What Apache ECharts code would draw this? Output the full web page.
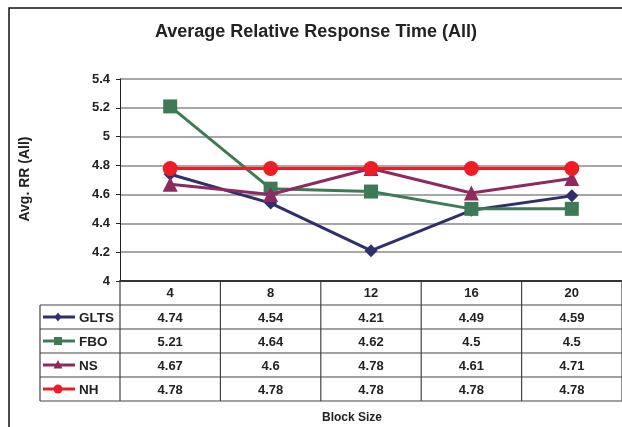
<!DOCTYPE html>
<html>
<head>
<meta charset="utf-8">
<script src="https://cdn.jsdelivr.net/npm/echarts@6/dist/echarts.min.js"></script>
<style>
  html, body { margin: 0; padding: 0; background: #fff; }
  #chart { width: 622px; height: 427px; }
</style>
</head>
<body>
<div id="chart"></div>
<script>
// Block sizes along the x axis
const categories = ['4', '8', '12', '16', '20'];
// Average relative response time per method
const gltsValues = [4.74, 4.54, 4.21, 4.49, 4.59];
const fboValues  = [5.21, 4.64, 4.62, 4.5, 4.5];
const nsValues   = [4.67, 4.6, 4.78, 4.61, 4.71];
const nhValues   = [4.78, 4.78, 4.78, 4.78, 4.78];
const seriesNames = ['GLTS', 'FBO', 'NS', 'NH'];

const FONT = "'Liberation Sans', Arial, sans-serif";
const TEXT = '#222';
const styles = [
  { color: '#2F2F6E', symbol: 'diamond',  size: 13, data: gltsValues },
  { color: '#3F7A57', symbol: 'rect',     size: 14, data: fboValues },
  { color: '#8E2A60', symbol: 'triangle', size: 15, data: nsValues },
  { color: '#EE1C25', symbol: 'circle',   size: 15, data: nhValues }
];

const chart = echarts.init(document.getElementById('chart'), null, { renderer: 'canvas' });

const option = {
  animation: false,
  backgroundColor: '#fff',
  grid: { left: 120, top: 79, width: 505, height: 202, containLabel: false },
  xAxis: {
    type: 'category',
    data: categories,
    boundaryGap: true,
    axisLine: { lineStyle: { color: '#333', width: 2 } },
    axisTick: { show: false },
    axisLabel: { color: TEXT, fontFamily: FONT, fontWeight: 'bold', fontSize: 13, margin: 6 }
  },
  yAxis: {
    type: 'value',
    min: 4, max: 5.4, interval: 0.2,
    axisLine: { show: true, lineStyle: { color: '#222', width: 1 } },
    axisTick: { show: true, length: 4, lineStyle: { color: '#222' } },
    axisLabel: { color: TEXT, fontFamily: FONT, fontWeight: 'bold', fontSize: 13, margin: 10 },
    splitLine: { lineStyle: { color: '#8a8a8a', width: 1.5 } }
  },
  series: styles.map((s, i) => ({
    name: seriesNames[i],
    type: 'line',
    data: s.data,
    symbol: s.symbol,
    symbolSize: s.size,
    showSymbol: true,
    lineStyle: { color: s.color, width: 3 },
    itemStyle: { color: s.color },
    z: 2 + i
  }))
};
chart.setOption(option);

// Data table under the plot, laid out from the category axis positions
const c0 = chart.convertToPixel({ xAxisIndex: 0 }, 0);
const c1 = chart.convertToPixel({ xAxisIndex: 0 }, 1);
const band = c1 - c0;
const yBase = chart.convertToPixel({ yAxisIndex: 0 }, 4);
const headerH = 24;
const rowH = 24;
const legendLeft = 40;
const firstEdge = c0 - band / 2;
const lastEdge = firstEdge + band * categories.length;
const tableTop = yBase + headerH;
const tableBottom = tableTop + rowH * seriesNames.length;
const lineStyle = { stroke: '#444', lineWidth: 1.2 };

const graphics = [];
// outer chart frame
graphics.push({ type: 'rect', shape: { x: 9, y: 8, width: 700, height: 500 },
  style: { fill: null, stroke: '#111', lineWidth: 1.5 }, silent: true, z: 0 });
// title
graphics.push({ type: 'text', x: 316, y: 32,
  style: { text: 'Average Relative Response Time (All)', font: 'bold 18px ' + FONT, fill: TEXT,
           textAlign: 'center', textVerticalAlign: 'middle' } });
// y axis title
graphics.push({ type: 'text', x: 25, y: 179, rotation: Math.PI / 2,
  style: { text: 'Avg. RR (All)', font: 'bold 14px ' + FONT, fill: TEXT,
           textAlign: 'center', textVerticalAlign: 'middle' } });
// x axis title
graphics.push({ type: 'text', x: 352, y: 418,
  style: { text: 'Block Size', font: 'bold 12px ' + FONT, fill: TEXT,
           textAlign: 'center', textVerticalAlign: 'middle' } });

// vertical cell borders
for (let i = 0; i <= categories.length; i++) {
  const x = firstEdge + band * i;
  graphics.push({ type: 'line', shape: { x1: x, y1: yBase, x2: x, y2: tableBottom }, style: lineStyle });
}
// horizontal row borders
for (let r = 0; r <= seriesNames.length; r++) {
  const y = tableTop + rowH * r;
  graphics.push({ type: 'line', shape: { x1: legendLeft, y1: y, x2: lastEdge, y2: y }, style: lineStyle });
}
graphics.push({ type: 'line', shape: { x1: legendLeft, y1: tableTop, x2: legendLeft, y2: tableBottom }, style: lineStyle });

// legend keys and value cells
styles.forEach((s, r) => {
  const cy = tableTop + rowH * r + rowH / 2;
  const kx = 58;
  graphics.push({ type: 'line', shape: { x1: 43, y1: cy, x2: 75, y2: cy },
    style: { stroke: s.color, lineWidth: 3 } });
  if (s.symbol === 'diamond') {
    graphics.push({ type: 'polygon', shape: { points: [[kx, cy - 4.5], [kx + 3.5, cy], [kx, cy + 4.5], [kx - 3.5, cy]] },
      style: { fill: s.color } });
  } else if (s.symbol === 'rect') {
    graphics.push({ type: 'rect', shape: { x: kx - 4, y: cy - 4, width: 8, height: 8 }, style: { fill: s.color } });
  } else if (s.symbol === 'triangle') {
    graphics.push({ type: 'polygon', shape: { points: [[kx, cy - 5], [kx + 4.5, cy + 3.5], [kx - 4.5, cy + 3.5]] },
      style: { fill: s.color } });
  } else {
    graphics.push({ type: 'circle', shape: { cx: kx, cy: cy, r: 4.5 }, style: { fill: s.color } });
  }
  graphics.push({ type: 'text', x: 79, y: cy + 1,
    style: { text: seriesNames[r], font: 'bold 13.5px ' + FONT, fill: TEXT,
             textAlign: 'left', textVerticalAlign: 'middle' } });
  s.data.forEach((v, i) => {
    const cx = chart.convertToPixel({ xAxisIndex: 0 }, i);
    graphics.push({ type: 'text', x: cx, y: cy + 1,
      style: { text: String(v), font: 'bold 13px ' + FONT, fill: TEXT,
               textAlign: 'center', textVerticalAlign: 'middle' } });
  });
});

chart.setOption({ graphic: graphics });
</script>
</body>
</html>
